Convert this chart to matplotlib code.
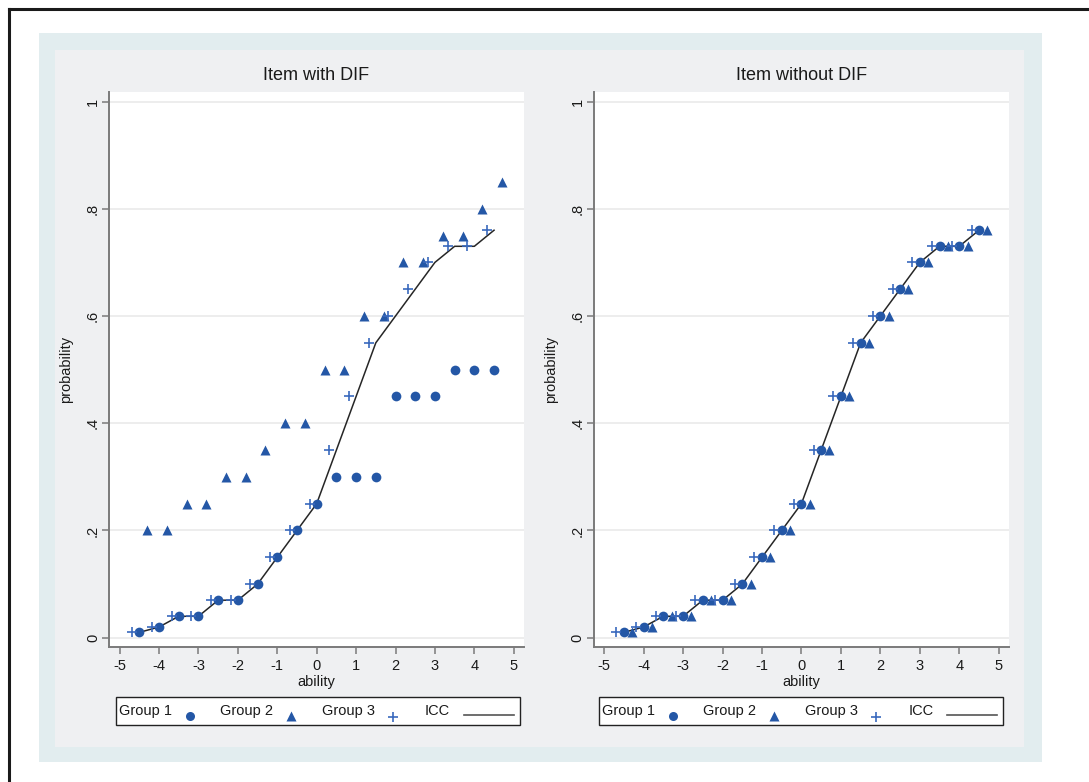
import matplotlib
matplotlib.use("Agg")
import matplotlib.pyplot as plt
from matplotlib.patches import Rectangle
from matplotlib.lines import Line2D

plt.rcParams['font.family'] = ['Liberation Sans', 'DejaVu Sans']

# ---------------- data ----------------
ability_levels = [-4.5, -4.0, -3.5, -3.0, -2.5, -2.0, -1.5, -1.0, -0.5, 0.0,
                  0.5, 1.0, 1.5, 2.0, 2.5, 3.0, 3.5, 4.0, 4.5]
icc = [0.01, 0.02, 0.04, 0.04, 0.07, 0.07, 0.10, 0.15, 0.20, 0.25,
       0.35, 0.45, 0.55, 0.60, 0.65, 0.70, 0.73, 0.73, 0.76]

# Item with DIF
dif_g1_x = [-4.5, -4.0, -3.5, -3.0, -2.5, -2.0, -1.5, -1.0, -0.5, 0.0,
            0.5, 1.0, 1.5, 2.0, 2.5, 3.0, 3.5, 4.0, 4.5]
dif_g1_y = [0.01, 0.02, 0.04, 0.04, 0.07, 0.07, 0.10, 0.15, 0.20, 0.25,
            0.30, 0.30, 0.30, 0.45, 0.45, 0.45, 0.50, 0.50, 0.50]
dif_g2_x = [-4.3, -3.8, -3.3, -2.8, -2.3, -1.8, -1.3, -0.8, -0.3, 0.2,
            0.7, 1.2, 1.7, 2.2, 2.7, 3.2, 3.7, 4.2, 4.7]
dif_g2_y = [0.20, 0.20, 0.25, 0.25, 0.30, 0.30, 0.35, 0.40, 0.40, 0.50,
            0.50, 0.60, 0.60, 0.70, 0.70, 0.75, 0.75, 0.80, 0.85]
dif_g3_x = [-4.68, -4.18, -3.68, -3.18, -2.68, -2.18, -1.68, -1.18, -0.68, -0.18,
            0.32, 0.82, 1.32, 1.82, 2.32, 2.82, 3.32, 3.82, 4.32]
dif_g3_y = [0.01, 0.02, 0.04, 0.04, 0.07, 0.07, 0.10, 0.15, 0.20, 0.25,
            0.35, 0.45, 0.55, 0.60, 0.65, 0.70, 0.73, 0.73, 0.76]

# Item without DIF
nodif_g1_x = [-4.5, -4.0, -3.5, -3.0, -2.5, -2.0, -1.5, -1.0, -0.5, 0.0,
              0.5, 1.0, 1.5, 2.0, 2.5, 3.0, 3.5, 4.0, 4.5]
nodif_g1_y = [0.01, 0.02, 0.04, 0.04, 0.07, 0.07, 0.10, 0.15, 0.20, 0.25,
              0.35, 0.45, 0.55, 0.60, 0.65, 0.70, 0.73, 0.73, 0.76]
nodif_g2_x = [-4.29, -3.79, -3.29, -2.79, -2.29, -1.79, -1.29, -0.79, -0.29, 0.21,
              0.71, 1.21, 1.71, 2.21, 2.71, 3.21, 3.71, 4.21, 4.71]
nodif_g2_y = [0.01, 0.02, 0.04, 0.04, 0.07, 0.07, 0.10, 0.15, 0.20, 0.25,
              0.35, 0.45, 0.55, 0.60, 0.65, 0.70, 0.73, 0.73, 0.76]
nodif_g3_x = [-4.69, -4.19, -3.69, -3.19, -2.69, -2.19, -1.69, -1.19, -0.69, -0.19,
              0.31, 0.81, 1.31, 1.81, 2.31, 2.81, 3.31, 3.81, 4.31]
nodif_g3_y = [0.01, 0.02, 0.04, 0.04, 0.07, 0.07, 0.10, 0.15, 0.20, 0.25,
              0.35, 0.45, 0.55, 0.60, 0.65, 0.70, 0.73, 0.73, 0.76]

x_ticks = [-5, -4, -3, -2, -1, 0, 1, 2, 3, 4, 5]
y_ticks = [0, 0.2, 0.4, 0.6, 0.8, 1.0]
y_ticklabels = ["0", ".2", ".4", ".6", ".8", "1"]
legend_labels = ["Group 1", "Group 2", "Group 3", "ICC"]
titles = ["Item with DIF", "Item without DIF"]

# ---------------- figure ----------------
W, H = 1089, 782
fig = plt.figure(figsize=(W / 100, H / 100), dpi=100, facecolor="white")

def fx(px):
    return px / W

def fy(py):
    return 1 - py / H

# backgrounds
fig.patches.append(Rectangle((fx(39), fy(762)), fx(1042) - fx(39), fy(33) - fy(762),
                             transform=fig.transFigure, facecolor="#e2edef",
                             edgecolor="none", zorder=-3))
fig.patches.append(Rectangle((fx(55), fy(747)), fx(1024) - fx(55), fy(50) - fy(747),
                             transform=fig.transFigure, facecolor="#eff0f2",
                             edgecolor="none", zorder=-2))
# black border (top and left)
fig.lines.append(Line2D([fx(9), fx(1089)], [fy(9), fy(9)], transform=fig.transFigure,
                        color="#1a1a1a", lw=2.2))
fig.lines.append(Line2D([fx(9), fx(9)], [fy(9), fy(782)], transform=fig.transFigure,
                        color="#1a1a1a", lw=2.2))

blue = "#2457a6"
blue_plus = "#3a69bd"
icc_color = "#262626"
text_color = "#1a1a1a"

panels = [
    (109, 524, 115.5, dif_g1_x, dif_g1_y, dif_g2_x, dif_g2_y, dif_g3_x, dif_g3_y),
    (593.5, 1009, 598.7, nodif_g1_x, nodif_g1_y, nodif_g2_x, nodif_g2_y, nodif_g3_x, nodif_g3_y),
]
top_px, bot_px = 91.5, 647

for i, (lpx, rpx, legx, g1x, g1y, g2x, g2y, g3x, g3y) in enumerate(panels):
    ax = fig.add_axes([fx(lpx), fy(bot_px), fx(rpx) - fx(lpx), fy(top_px) - fy(bot_px)])
    ax.set_facecolor("white")
    ax.set_xlim(-5.27, 5.26)
    ax.set_ylim(-0.0173, 1.0187)
    ax.set_yticks(y_ticks)
    ax.set_yticklabels(y_ticklabels, rotation=90, va="center")
    ax.set_xticks(x_ticks)
    ax.set_xticklabels([str(t) for t in x_ticks])
    ax.grid(axis="y", color="#e8e8e8", lw=1.1)
    ax.set_axisbelow(True)
    for s in ["top", "right"]:
        ax.spines[s].set_visible(False)
    for s in ["left", "bottom"]:
        ax.spines[s].set_color("#7a7a7a")
        ax.spines[s].set_linewidth(1.4)
    ax.tick_params(axis="both", direction="out", length=5, width=1.1, color="#7a7a7a",
                   labelsize=10.5, labelcolor=text_color, pad=4)
    ax.tick_params(axis="y", pad=1.5)

    ax.plot(ability_levels, icc, color=icc_color, lw=1.1, zorder=2)
    ax.plot(g1x, g1y, "o", color=blue, ms=7, mec="none", zorder=3)
    ax.plot(g2x, g2y, "^", color=blue, ms=7.8, mec="none", zorder=3)
    ax.plot(g3x, g3y, "+", color=blue_plus, ms=7.5, mew=1.2, zorder=4)

    ax.set_title(titles[i], fontsize=13, color=text_color, pad=8)
    ax.set_xlabel("ability", fontsize=10.5, color=text_color, labelpad=1)
    ax.set_ylabel("probability", fontsize=10.5, color=text_color, labelpad=9)

    # ---- legend box (drawn manually, Stata-like layout) ----
    box_w, box_top, box_bot = 404, 697, 725
    fig.patches.append(Rectangle((fx(legx), fy(box_bot)), fx(legx + box_w) - fx(legx),
                                 fy(box_top) - fy(box_bot), transform=fig.transFigure,
                                 facecolor="white", edgecolor="#222222", lw=1.0, zorder=5))
    text_off = [3.5, 104.5, 206, 309.5]
    for lab, off in zip(legend_labels, text_off):
        fig.text(fx(legx + off), fy(711), lab, fontsize=10.5, color=text_color,
                 ha="left", va="center", zorder=6)
    mk_y = fy(715.5)
    fig.lines.append(Line2D([fx(legx + 74)], [mk_y], transform=fig.transFigure,
                            marker="o", color=blue, ms=6.5, mec="none", ls="none", zorder=6))
    fig.lines.append(Line2D([fx(legx + 175.5)], [mk_y], transform=fig.transFigure,
                            marker="^", color=blue, ms=7.2, mec="none", ls="none", zorder=6))
    fig.lines.append(Line2D([fx(legx + 277)], [fy(716.5)], transform=fig.transFigure,
                            marker="+", color=blue_plus, ms=7, mew=1.2, ls="none", zorder=6))
    fig.lines.append(Line2D([fx(legx + 348), fx(legx + 398)], [fy(715), fy(715)],
                            transform=fig.transFigure, color="#555555", lw=1.2, zorder=6))

fig.savefig("out.png", dpi=100, facecolor="white")
